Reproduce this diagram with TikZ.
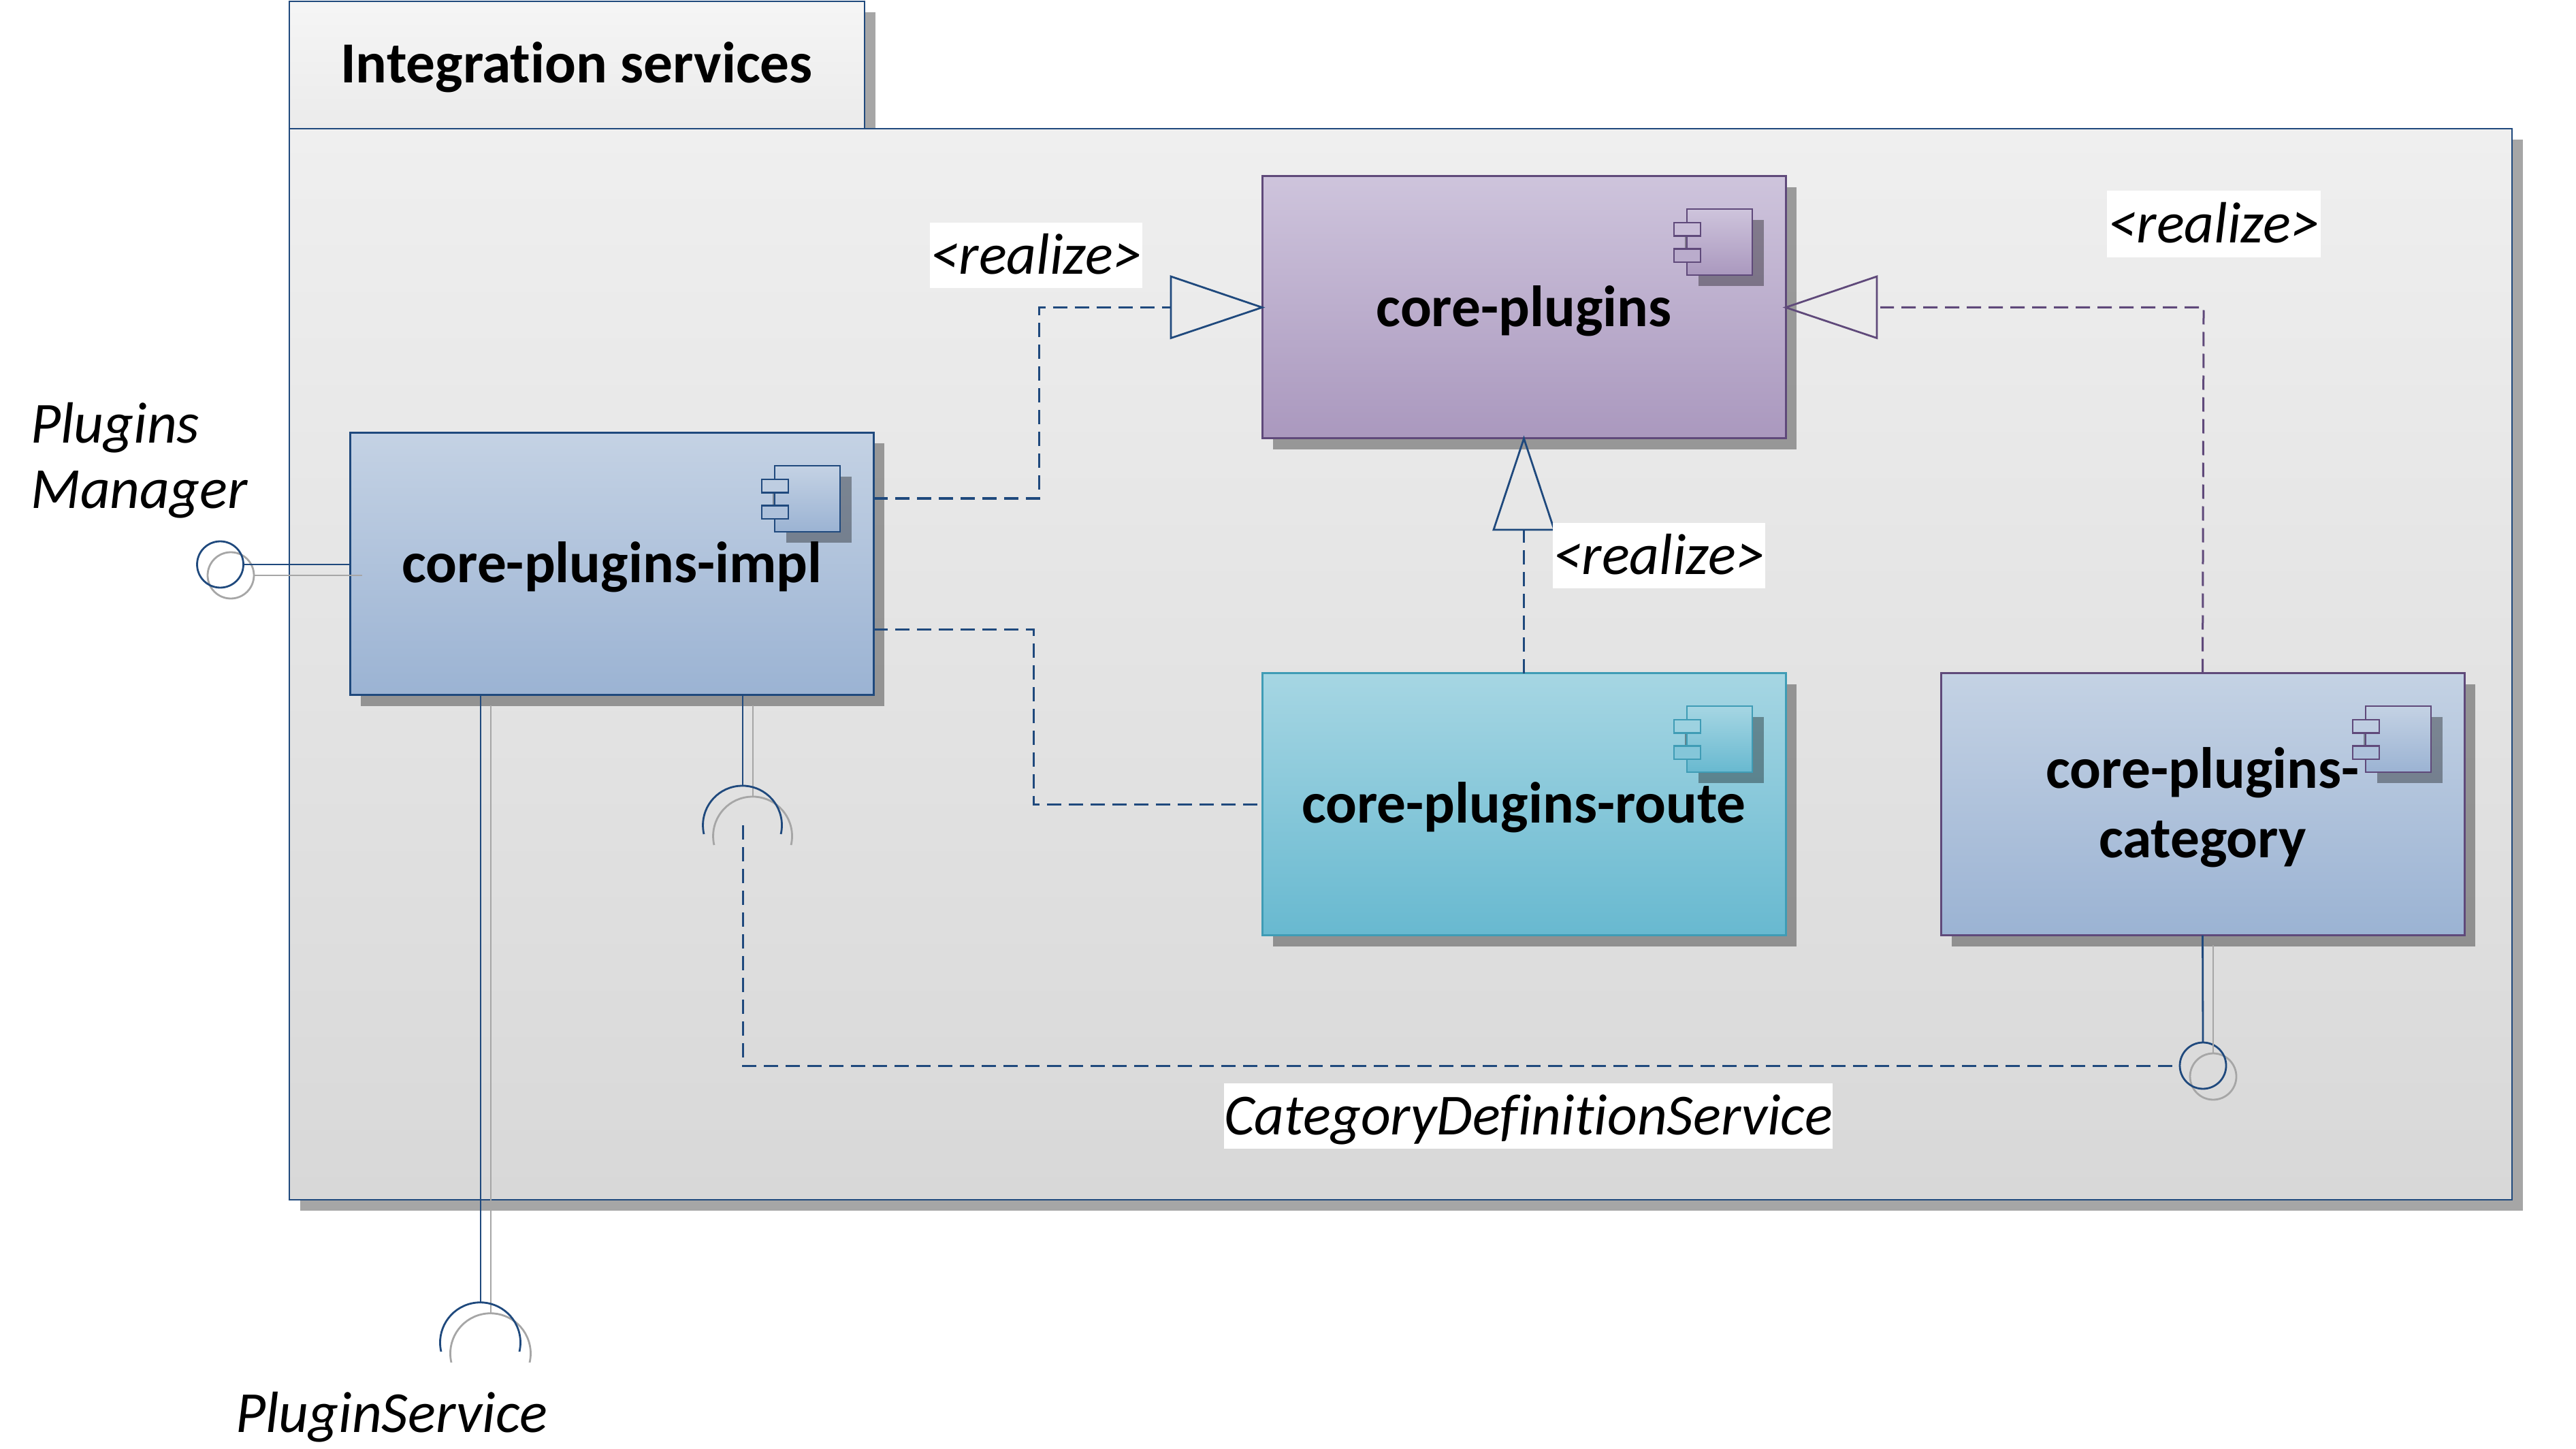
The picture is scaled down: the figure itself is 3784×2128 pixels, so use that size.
\documentclass[tikz,border=0pt]{standalone}
\usepackage{fontspec}
\setmainfont[Ligatures=NoCommon]{Carlito}
\usetikzlibrary{shadows}
\definecolor{lnblue}{HTML}{1F497D}
\definecolor{lnpurple}{HTML}{5F497A}
\definecolor{lnteal}{HTML}{3F9CB5}
\definecolor{lngrey}{HTML}{A6A6A6}
\definecolor{colA}{HTML}{CEC4DC}
\definecolor{colB}{HTML}{AA98BE}
\definecolor{colC}{HTML}{C4D2E4}
\definecolor{colD}{HTML}{9BB3D3}
\definecolor{colE}{HTML}{A6D6E3}
\definecolor{colF}{HTML}{68B9D0}
\definecolor{colP}{HTML}{EFEFEF}
\definecolor{colQ}{HTML}{D8D8D8}
\definecolor{colR}{HTML}{EBEBEB}
\newcommand{\dn}[1]{\raisebox{-2.5pt}[\height][\depth]{#1}}
\newcommand{\lift}[1]{\raisebox{1pt}[\height][\depth]{#1}}
\tikzset{
  pxshadow/.style={copy shadow={shadow xshift=7.75pt,shadow yshift=-8pt,fill=black,draw=none,fill opacity=0.35}},
  comp/.style={draw=#1,line width=1.5pt,rectangle,outer sep=0pt,minimum width=384.5pt,minimum height=192.5pt,inner sep=0pt,align=center,
     font=\fontsize{42.7}{51}\selectfont\bfseries,pxshadow},
  lab/.style={font=\fontsize{42.7}{50}\selectfont\itshape,inner sep=0pt,outer sep=0pt,text=black},
  labw/.style={lab,fill=white},
  thinln/.style={draw=lnblue,line width=1.4pt},
  shad/.style={draw=lngrey,line width=1.4pt},
  dashln/.style={draw=lnblue,line width=1.5pt,dash pattern=on 10.5pt off 5.5pt},
  lolli/.style={circle,minimum size=34pt,inner sep=0pt,outer sep=0pt,line width=1.4pt},
  icobody/.style={rectangle,inner sep=0pt,outer sep=0pt,minimum width=48pt,minimum height=48.5pt,line width=1.4pt,draw=#1},
  icoport/.style={rectangle,inner sep=0pt,outer sep=0pt,minimum width=19.5pt,minimum height=9.75pt,line width=1.4pt,draw=#1},
}
% \compicon{name}{right}{top}{line}{topcolour}{bottomcolour}
\newcommand{\compicon}[6]{%
  \fill[black,opacity=0.35] (#2-143+15,#3+48+16) rectangle (#2-47+15,#3+145+16);
  \fill[black,opacity=0.35] (#2-148,#3+68) rectangle (#2-143,#3+126);
  \node[icobody=#4,top color=#5,bottom color=#6,anchor=north west] (#1b) at (#2-145,#3+48) {};
  \node[icoport=#4,fill=#5!85!#6,anchor=north west] (#1p) at (#2-164,#3+68) {};
  \node[icoport=#4,fill=#5!45!#6,anchor=north west] (#1q) at (#2-164,#3+106.5) {};
}
\begin{document}
\begin{tikzpicture}[x=0.5pt,y=-0.5pt]
\useasboundingbox (0,0) rectangle (3784,2128);
% package
\node[draw=lnblue,line width=1.4pt,top color=colP!60!white,bottom color=colR,outer sep=0pt,minimum width=422.5pt,minimum height=93.5pt,inner sep=0pt,anchor=north west,pxshadow] (tab) at (425,2) {};
\node[font=\fontsize{42.7}{50}\selectfont\bfseries,inner sep=0pt] (tabl) at (847,99) {Integration services};
\node[draw=lnblue,line width=1.4pt,top color=colP,bottom color=colQ,outer sep=0pt,minimum width=1632.5pt,minimum height=786.5pt,inner sep=0pt,anchor=north west,pxshadow] (pkg) at (425,189) {};
% components
\node[comp=lnpurple,top color=colA,bottom color=colB] (core) at (2238.5,451.5) {\dn{core-plugins}};
\node[comp=lnblue,top color=colC,bottom color=colD] (impl) at (899,828) {\dn{core-plugins-impl}};
\node[comp=lnteal,top color=colE,bottom color=colF] (route) at (2238.5,1181) {\dn{core-plugins-route}};
\node[comp=lnpurple,top color=colC,bottom color=colD] (cat) at (3235.5,1181) {\dn{core-plugins-}\\\dn{category}};
\compicon{ci}{2623}{259}{lnpurple}{colA}{colB}
\compicon{ii}{1283}{636}{lnblue}{colC}{colD}
\compicon{ri}{2623}{989}{lnteal}{colE}{colF}
\compicon{ki}{3620}{989}{lnpurple}{colC}{colD}
% coordinates
\coordinate (a1) at (1283,732);
\coordinate (a2) at (1526,732);
\coordinate (a3) at (1526,451.5);
\coordinate (b1) at (1283,924);
\coordinate (b2) at (1518,924);
\coordinate (b3) at (1518,1181);
\coordinate (t1) at (1720,451.5);
\coordinate (t2) at (2762,451.5);
\coordinate (t3) at (2238.5,778);
\coordinate (c1) at (3237,451.5);
% realize connectors
\draw[dashln] (a1) -- (a2) -- (a3) -- (t1);
\draw[dashln] (b1) -- (b2) -- (b3) -- (route.west);
\draw[dashln] (route.north) -- (t3);
\draw[dashln,draw=lnpurple] (cat.north) -- (c1) -- (t2);
\draw[thinln] (core.west) -- (1720,406) -- (1720,496.5) -- cycle;
\draw[thinln,draw=lnpurple] (core.east) -- (2757,406) -- (2757,496.5) -- cycle;
\draw[thinln] (core.south) -- (2194,778) -- (2283,778) -- cycle;
% lollipop left
\node[lolli,draw=lngrey] (lg) at (339,845) {};
\node[lolli,draw=lnblue] (lb) at (323.5,829) {};
\coordinate (lge) at (532,845);
\draw[shad] (lg.east) -- (lge);
\draw[thinln] (lb.east) -- (impl.west |- lb.east);
% lollipop lower
\node[lolli,draw=lngrey] (kg) at (3251,1581) {};
\node[lolli,draw=lnblue] (kb) at (3236,1565) {};
\coordinate (kgs) at (3251,1388);
\draw[shad] (kgs) -- (kg.north);
\draw[thinln] (cat.south) -- (kb.north);
% sockets
\draw[shad] (1106,1036) coordinate (s1s) -- (1106,1170) coordinate (s1t);
\draw[shad] (1049,1241) arc[start angle=167,end angle=373,radius=58];
\coordinate (s2t) at (1091,1154);
\draw[thinln] (impl.south -| s2t) -- (s2t);
\draw[thinln] (1034,1225) arc[start angle=167,end angle=373,radius=58];
\draw[shad] (721,1036) coordinate (p1s) -- (721,1929) coordinate (p1t);
\draw[shad] (663,2001) arc[start angle=167,end angle=373,radius=59];
\coordinate (p2t) at (706,1913);
\draw[thinln] (impl.south -| p2t) -- (p2t);
\draw[thinln] (648,1985) arc[start angle=167,end angle=373,radius=59];
% dashed required link
\coordinate (d1) at (1091,1212);
\coordinate (d2) at (1091,1565);
\draw[dashln] (d1) -- (d2) -- (kb.west);
% labels
\node[labw,minimum width=156pt,minimum height=48pt] (r1) at (1522,375) {\lift{<realize>}};
\node[labw,minimum width=157pt,minimum height=49pt] (r2) at (3252,329) {\lift{<realize>}};
\node[labw,minimum width=156pt,minimum height=48pt] (r3) at (2437,816) {\lift{<realize>}};
\node[labw,minimum width=447pt,minimum height=48pt] (r4) at (2245,1639) {\dn{CategoryDefinitionService}};
\node[lab,anchor=west,align=left,font=\fontsize{42.7}{48.3}\selectfont\itshape] (pm) at (45,676) {Plugins\\Manager};
\node[lab] (ps) at (575,2081) {PluginService};
\end{tikzpicture}
\end{document}
